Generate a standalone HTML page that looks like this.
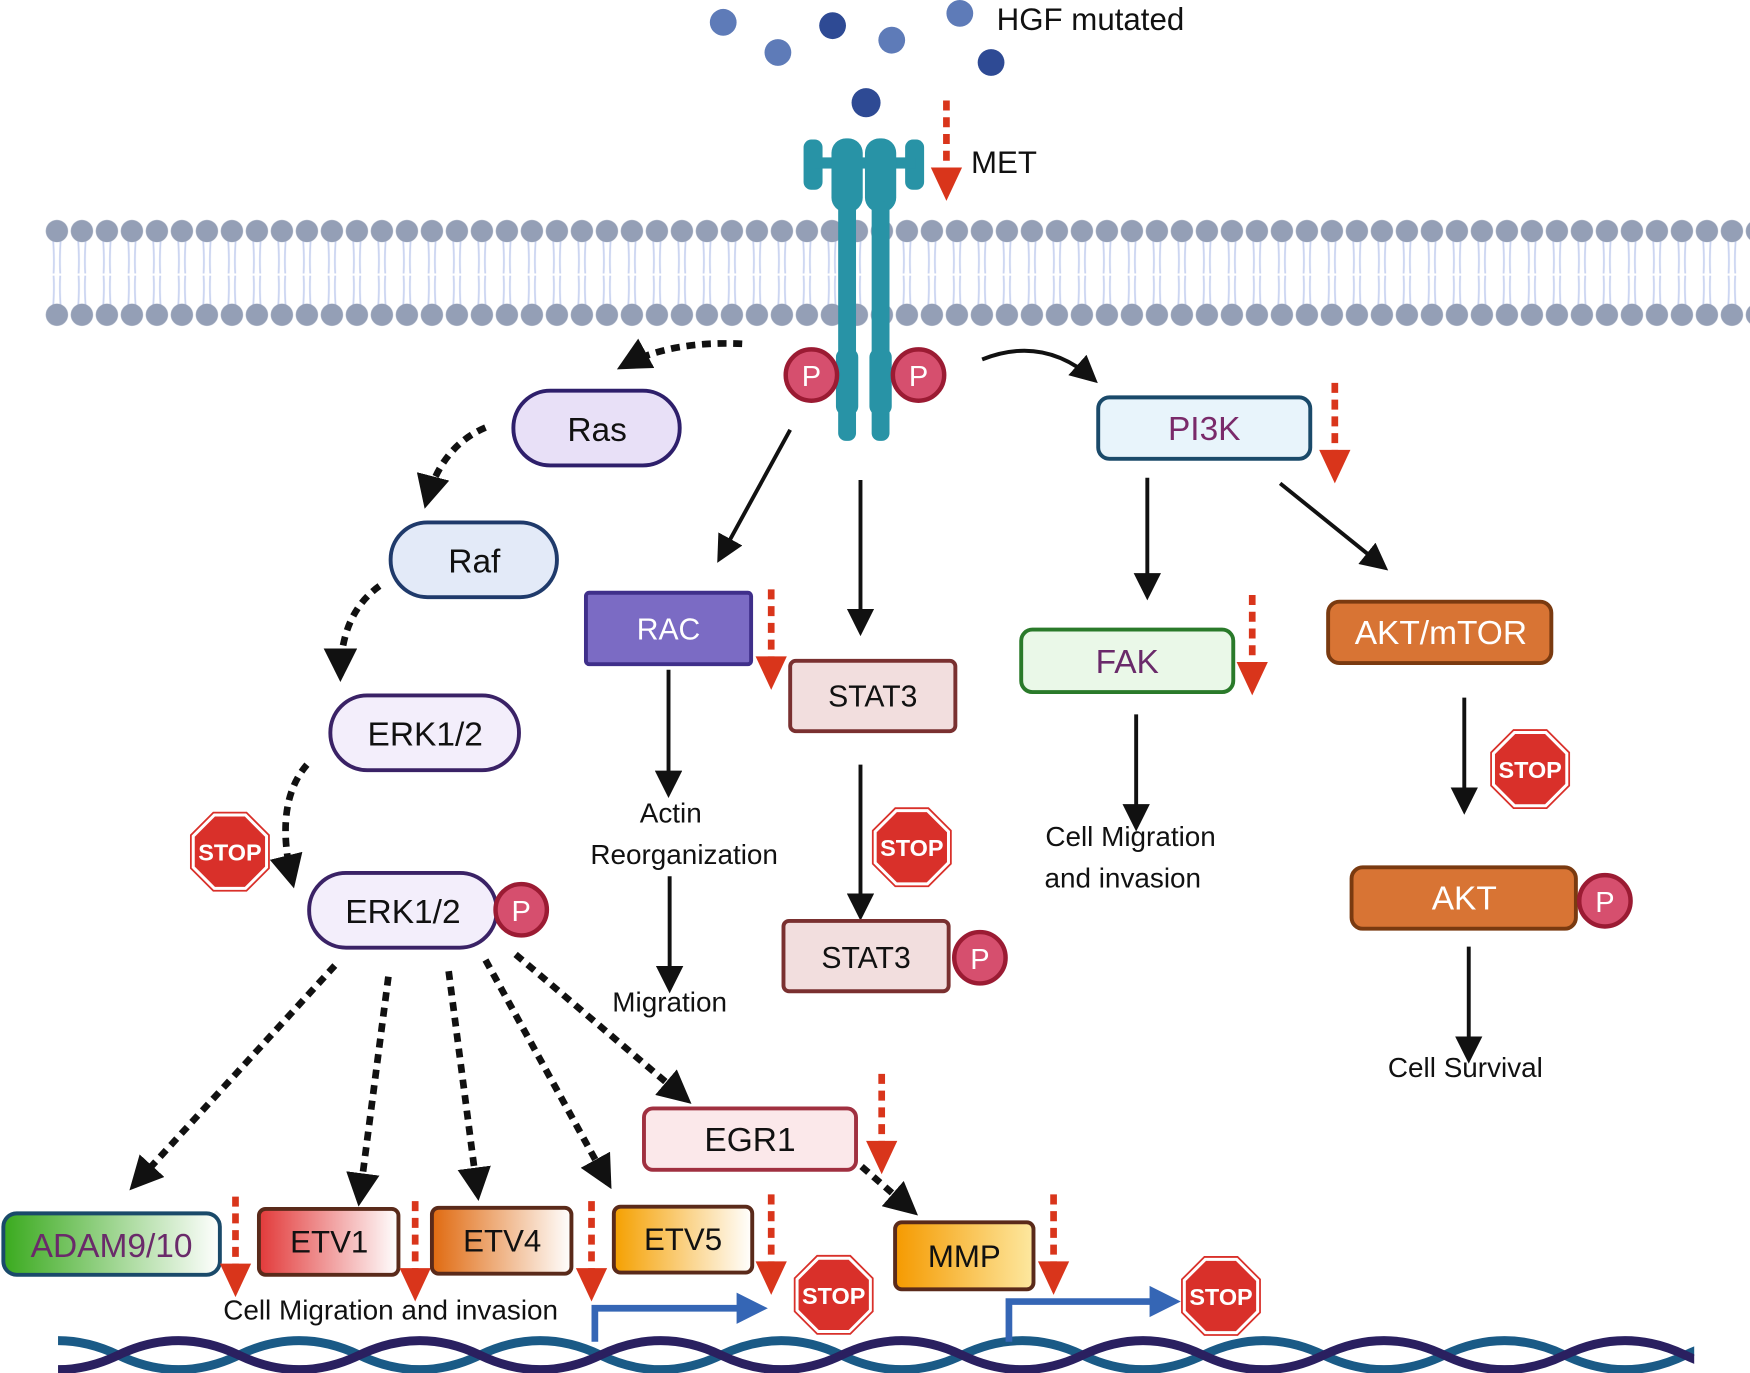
<!DOCTYPE html>
<html><head><meta charset="utf-8"><style>
html,body{margin:0;padding:0;background:#fff;}
svg{display:block;}
text{font-family:"Liberation Sans",sans-serif;}
</style></head><body>
<svg width="1750" height="1373" viewBox="0 0 1568 1230" preserveAspectRatio="none" xmlns="http://www.w3.org/2000/svg">
<defs>
<clipPath id="dnaclip"><rect x="40" y="1180" width="1478" height="60"/></clipPath>
<pattern id="mem" x="40" y="195" width="22.4" height="100" patternUnits="userSpaceOnUse">
<path d="M7 12 Q9 35 8 50 M15 12 Q13 35 14 50 M7 88 Q9 65 8 52 M15 88 Q13 65 14 52" stroke="#c9d3f0" stroke-width="1.6" fill="none"/>
<circle cx="11" cy="12" r="10" fill="#949fb6"/>
<circle cx="11" cy="87" r="10" fill="#949fb6"/>
</pattern>
<marker id="ah" viewBox="0 0 10 10" refX="8" refY="5" markerWidth="5" markerHeight="5" orient="auto"><path d="M0 0L10 5L0 10z" fill="#111"/></marker>
<marker id="ahs" viewBox="0 0 10 10" refX="8" refY="5" markerWidth="7" markerHeight="7" orient="auto"><path d="M0 0L10 5L0 10z" fill="#111"/></marker>
<linearGradient id="gA" x1="0" x2="1"><stop offset="0" stop-color="#3aaa1e"/><stop offset="1" stop-color="#fff"/></linearGradient>
<linearGradient id="g1" x1="0" x2="1"><stop offset="0" stop-color="#e23a3a"/><stop offset="1" stop-color="#fff"/></linearGradient>
<linearGradient id="g4" x1="0" x2="1"><stop offset="0" stop-color="#e06a10"/><stop offset="1" stop-color="#fff"/></linearGradient>
<linearGradient id="g5" x1="0" x2="1"><stop offset="0" stop-color="#f5a000"/><stop offset="1" stop-color="#fff"/></linearGradient>
<linearGradient id="gM" x1="0" x2="1"><stop offset="0" stop-color="#f59a00"/><stop offset="1" stop-color="#fde8a0"/></linearGradient>
<g id="stop"><polygon points="-14,-33 14,-33 33,-14 33,14 14,33 -14,33 -33,14 -33,-14" fill="#d9302a" stroke="#fff" stroke-width="3"/><polygon points="-14,-33 14,-33 33,-14 33,14 14,33 -14,33 -33,14 -33,-14" fill="none" stroke="#d9302a" stroke-width="1.5" transform="scale(1.06)"/><text x="0" y="8" font-size="21" font-weight="bold" fill="#fff" text-anchor="middle">STOP</text></g>
<g id="red"><line x1="0" y1="0" x2="0" y2="62" stroke="#d9351b" stroke-width="6" stroke-dasharray="9,6"/><polygon points="-14,60 14,60 0,90" fill="#d9351b"/></g>
<g id="P"><circle r="23" fill="#d64f6e" stroke="#9b1b33" stroke-width="4"/><text y="10" font-size="26" fill="#fff" text-anchor="middle">P</text></g>
</defs>

<g fill="#5e7bb8"><circle cx="648" cy="20" r="12"/><circle cx="697" cy="47" r="12"/><circle cx="799" cy="36" r="12"/><circle cx="860" cy="12" r="12"/></g>
<g fill="#2e4a94"><circle cx="746" cy="23" r="12"/><circle cx="888" cy="56" r="12"/><circle cx="776" cy="92" r="13"/></g>
<text x="893" y="27" font-size="28" fill="#111">HGF mutated</text>

<rect x="40" y="195" width="1528" height="100" fill="url(#mem)"/>

<g fill="#2893a6">
<rect x="720" y="125" width="17" height="45" rx="7"/><rect x="811" y="125" width="17" height="45" rx="7"/>
<rect x="730" y="141" width="90" height="10"/>
<rect x="745" y="124" width="28" height="66" rx="13"/><rect x="775" y="124" width="28" height="66" rx="13"/>
<rect x="751" y="180" width="16" height="215" rx="7"/><rect x="781" y="180" width="16" height="215" rx="7"/>
<rect x="749" y="312" width="20" height="60" rx="8"/><rect x="779" y="312" width="20" height="60" rx="8"/>
</g>
<use href="#red" x="848" y="90"/>
<text x="870" y="155" font-size="28" fill="#111">MET</text>
<use href="#P" x="727" y="336"/><use href="#P" x="823" y="336"/>

<g stroke="#111" stroke-width="6" fill="none" stroke-dasharray="8,6" marker-end="url(#ah)">
<path d="M665 308 Q600 305 558 328"/>
<path d="M435 383 Q395 400 382 450"/>
<path d="M340 525 Q305 550 305 605"/>
<path d="M275 685 Q245 720 262 790"/>
<path d="M300 865 L120 1062"/>
<path d="M348 875 L322 1075"/>
<path d="M402 870 L428 1070"/>
<path d="M435 860 L545 1060"/>
<path d="M462 855 L615 985"/>
<path d="M772 1045 L818 1085"/>
</g>

<g stroke="#111" stroke-width="3.5" fill="none" marker-end="url(#ahs)">
<path d="M880 322 Q935 300 980 340"/>
<path d="M708 385 L645 500"/>
<path d="M771 430 L771 565"/>
<path d="M1028 428 L1028 533"/>
<path d="M1147 433 L1240 508"/>
<path d="M599 600 L599 710"/>
<path d="M600 785 L600 885"/>
<path d="M771 685 L771 820"/>
<path d="M1018 640 L1018 740"/>
<path d="M1312 625 L1312 725"/>
<path d="M1316 848 L1316 948"/>
</g>

<rect x="460" y="350" width="149" height="67" rx="33" fill="#e8e0f7" stroke="#2e1f6b" stroke-width="3.5"/>
<text x="535" y="395" font-size="30" text-anchor="middle" fill="#111">Ras</text>
<rect x="350" y="468" width="149" height="67" rx="33" fill="#e3eaf8" stroke="#1f3a6b" stroke-width="3.5"/>
<text x="425" y="513" font-size="30" text-anchor="middle" fill="#111">Raf</text>
<rect x="296" y="623" width="169" height="67" rx="33" fill="#f3eefb" stroke="#3a2266" stroke-width="3.5"/>
<text x="381" y="668" font-size="30" text-anchor="middle" fill="#111">ERK1/2</text>
<rect x="277" y="782" width="168" height="67" rx="33" fill="#f3eefb" stroke="#3a2266" stroke-width="3.5"/>
<text x="361" y="827" font-size="30" text-anchor="middle" fill="#111">ERK1/2</text>
<use href="#P" x="467" y="815"/>

<rect x="525" y="531" width="148" height="64" rx="3" fill="#7b6bc4" stroke="#3f2f8a" stroke-width="3.5"/>
<text x="599" y="573" font-size="27" text-anchor="middle" fill="#fff">RAC</text>
<use href="#red" x="691" y="528"/>
<rect x="708" y="592" width="148" height="63" rx="5" fill="#f2dede" stroke="#7a3030" stroke-width="3.5"/>
<text x="782" y="633" font-size="27" text-anchor="middle" fill="#111">STAT3</text>
<rect x="702" y="825" width="148" height="63" rx="5" fill="#f2dede" stroke="#7a3030" stroke-width="3.5"/>
<text x="776" y="867" font-size="27" text-anchor="middle" fill="#111">STAT3</text>
<use href="#P" x="878" y="858"/>

<rect x="984" y="356" width="190" height="55" rx="10" fill="#e8f4fb" stroke="#1a4a6a" stroke-width="3.5"/>
<text x="1079" y="394" font-size="30" text-anchor="middle" fill="#7a2a6a">PI3K</text>
<use href="#red" x="1196" y="343"/>
<rect x="915" y="564" width="190" height="56" rx="10" fill="#eaf8e8" stroke="#2a7a2a" stroke-width="3.5"/>
<text x="1010" y="603" font-size="30" text-anchor="middle" fill="#6a2a6a">FAK</text>
<use href="#red" x="1122" y="533"/>
<rect x="1190" y="539" width="200" height="55" rx="10" fill="#d87434" stroke="#7a3a10" stroke-width="3.5"/>
<text x="1291" y="577" font-size="30" text-anchor="middle" fill="#fff">AKT/mTOR</text>
<rect x="1211" y="777" width="201" height="55" rx="10" fill="#d87434" stroke="#7a3a10" stroke-width="3.5"/>
<text x="1312" y="815" font-size="30" text-anchor="middle" fill="#fff">AKT</text>
<use href="#P" x="1438" y="807"/>

<rect x="577" y="993" width="190" height="55" rx="8" fill="#fbe8ea" stroke="#a03040" stroke-width="3.5"/>
<text x="672" y="1031" font-size="30" text-anchor="middle" fill="#111">EGR1</text>
<use href="#red" x="790" y="962"/>
<rect x="802" y="1095" width="124" height="60" rx="6" fill="url(#gM)" stroke="#5a2a1a" stroke-width="3.5"/>
<text x="864" y="1135" font-size="28" text-anchor="middle" fill="#111">MMP</text>
<use href="#red" x="944" y="1070"/>

<rect x="3" y="1087" width="194" height="55" rx="12" fill="url(#gA)" stroke="#1a4a6a" stroke-width="3.5"/>
<text x="100" y="1126" font-size="30" text-anchor="middle" fill="#6a2a6a">ADAM9/10</text>
<use href="#red" x="211" y="1072"/>
<rect x="232" y="1083" width="125" height="59" rx="6" fill="url(#g1)" stroke="#5a2a1a" stroke-width="3.5"/>
<text x="295" y="1122" font-size="28" text-anchor="middle" fill="#111">ETV1</text>
<use href="#red" x="372" y="1076"/>
<rect x="387" y="1082" width="125" height="59" rx="6" fill="url(#g4)" stroke="#5a2a1a" stroke-width="3.5"/>
<text x="450" y="1121" font-size="28" text-anchor="middle" fill="#111">ETV4</text>
<use href="#red" x="530" y="1076"/>
<rect x="550" y="1081" width="124" height="59" rx="6" fill="url(#g5)" stroke="#5a2a1a" stroke-width="3.5"/>
<text x="612" y="1120" font-size="28" text-anchor="middle" fill="#111">ETV5</text>
<use href="#red" x="691" y="1070"/>

<g font-size="25" fill="#111" text-anchor="middle">
<text x="601" y="737">Actin</text><text x="613" y="774">Reorganization</text>
<text x="600" y="906">Migration</text>
<text x="1013" y="758">Cell Migration</text><text x="1006" y="795">and invasion</text>
<text x="1313" y="965">Cell Survival</text>
<text x="350" y="1182">Cell Migration and invasion</text>
</g>

<use href="#stop" x="206" y="763"/><use href="#stop" x="817" y="759"/><use href="#stop" x="1371" y="689"/>
<use href="#stop" x="747" y="1160"/><use href="#stop" x="1094" y="1161"/>

<g clip-path="url(#dnaclip)">
<path d="M52 1201 q27 0 54 13 t54 13 t54 -13 t54 -13 t54 13 t54 13 t54 -13 t54 -13 t54 13 t54 13 t54 -13 t54 -13 t54 13 t54 13 t54 -13 t54 -13 t54 13 t54 13 t54 -13 t54 -13 t54 13 t54 13 t54 -13 t54 -13 t54 13 t54 13 t54 -13 t54 -13" fill="none" stroke="#1a5a86" stroke-width="8"/>
<path d="M52 1227 q27 0 54 -13 t54 -13 t54 13 t54 13 t54 -13 t54 -13 t54 13 t54 13 t54 -13 t54 -13 t54 13 t54 13 t54 -13 t54 -13 t54 13 t54 13 t54 -13 t54 -13 t54 13 t54 13 t54 -13 t54 -13 t54 13 t54 13 t54 -13 t54 -13 t54 13 t54 13" fill="none" stroke="#2a2060" stroke-width="8"/>
</g>

<g fill="none" stroke="#3566b5" stroke-width="6">
<path d="M533 1202 L533 1172 L665 1172"/><path d="M904 1202 L904 1166 L1035 1166"/>
</g>
<polygon points="660,1158 688,1172 660,1186" fill="#3566b5"/>
<polygon points="1030,1152 1058,1166 1030,1180" fill="#3566b5"/>
</svg>
</body></html>
